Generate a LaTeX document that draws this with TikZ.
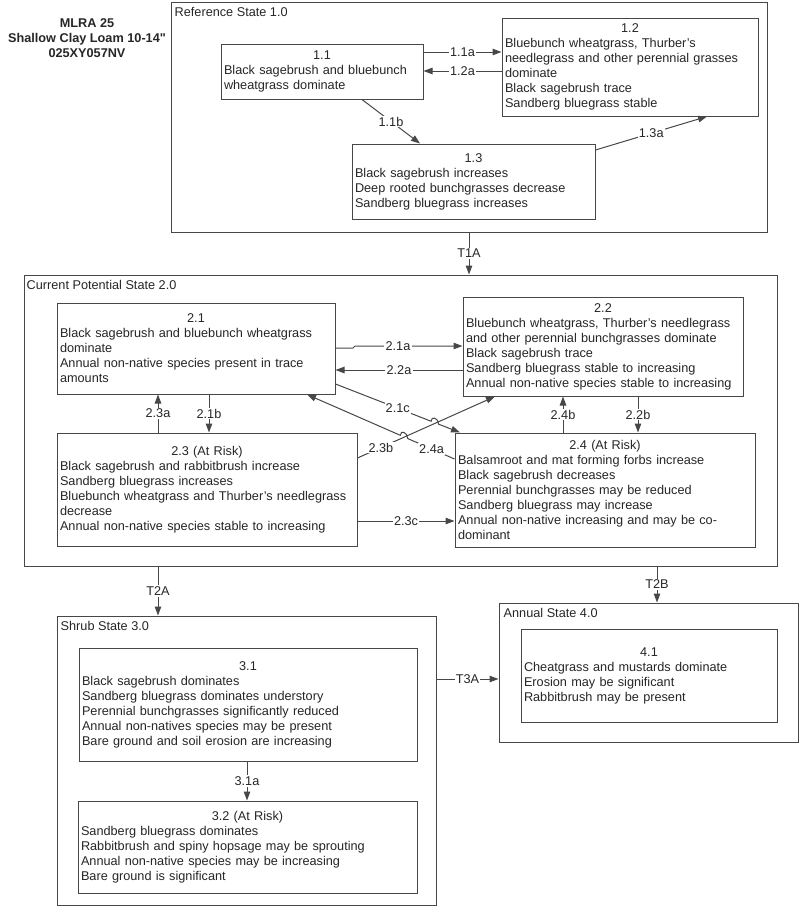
\documentclass[tikz,border=0pt]{standalone}
\usepackage{fontspec}
\setmainfont{Liberation Sans}
\usetikzlibrary{arrows.meta,calc}
\definecolor{linec}{gray}{0.28}
\definecolor{textc}{gray}{0.15}
\newcommand\fs{\fontsize{12.7}{15}\selectfont}
\newcommand\ttl[1]{\makebox[\hsize]{#1}}
\newcommand\straightquote{{\addfontfeatures{Ligatures=TeXOff}"}}
\begin{document}
\begin{tikzpicture}[x=1pt,y=-1pt,
  statebox/.style={draw=linec, line width=1pt, inner sep=0pt},
  box/.style={draw=linec, line width=1pt, fill=white, inner xsep=3pt, inner ysep=1pt,
    align=left, font=\fs, text=textc},
  bx/.code 2 args={\pgfmathsetmacro\tw{#1-6}%
    \edef\tmp{\noexpand\pgfkeysalso{minimum width=#1pt, minimum height=#2pt, text width=\tw pt}}\tmp},
  sttl/.style={anchor=base west, inner sep=0pt, font=\fs, text=textc},
  lbl/.style={fill=white, inner sep=1.2pt, font=\fs, text=textc},
  arr/.style={draw=linec, line width=1pt, -{Triangle[length=9pt,width=6.5pt]}}
]
\useasboundingbox (0,0) rectangle (800,908);

% title
\node[font={\bfseries\fs}, text=textc, align=center] (title) at (87,38)
  {MLRA 25\\Shallow Clay Loam 10-14\straightquote\\025XY057NV};

% state boxes
\node[statebox, minimum width=596pt, minimum height=230pt] (s1) at (469,117) {};
\node[statebox, minimum width=753pt, minimum height=291pt] (s2) at (400.5,420.5) {};
\node[statebox, minimum width=379pt, minimum height=289pt] (s3) at (246.5,760.5) {};
\node[statebox, minimum width=299pt, minimum height=139pt] (s4) at (648.5,672.5) {};

\node[sttl] (t1) at ([shift={(4,14.5)}]s1.north west) {Reference State 1.0};
\node[sttl] (t2) at ([shift={(3,14.5)}]s2.north west) {Current Potential State 2.0};
\node[sttl] (t3) at ([shift={(4,14.5)}]s3.north west) {Shrub State 3.0};
\node[sttl] (t4) at ([shift={(5,14.5)}]s4.north west) {Annual State 4.0};

% community boxes
\node[box, bx={202}{55}] (b11) at (322,71.5)
  {\ttl{1.1}\\Black sagebrush and bluebunch\\wheatgrass dominate};
\node[box, bx={256}{98}] (b12) at (630,67)
  {\ttl{1.2}\\Bluebunch wheatgrass, Thurber's\\needlegrass and other perennial grasses\\dominate\\Black sagebrush trace\\Sandberg bluegrass stable};
\node[box, bx={243}{75}] (b13) at (473.5,181.5)
  {\ttl{1.3}\\Black sagebrush increases\\Deep rooted bunchgrasses decrease\\Sandberg bluegrass increases};

\node[box, bx={278}{91}] (b21) at (196,348.5)
  {\ttl{2.1}\\Black sagebrush and bluebunch wheatgrass\\dominate\\Annual non-native species present in trace\\amounts};
\node[box, bx={280}{99}] (b22) at (603,346.5)
  {\ttl{2.2}\\Bluebunch wheatgrass, Thurber's needlegrass\\and other perennial bunchgrasses dominate\\Black sagebrush trace\\Sandberg bluegrass stable to increasing\\Annual non-native species stable to increasing};
\node[box, bx={300}{113}] (b23) at (207,489.5)
  {\ttl{2.3 (At Risk)}\\Black sagebrush and rabbitbrush increase\\Sandberg bluegrass increases\\Bluebunch wheatgrass and Thurber's needlegrass\\decrease\\Annual non-native species stable to increasing};
\node[box, bx={300}{114}] (b24) at (605,490)
  {\ttl{2.4 (At Risk)}\\Balsamroot and mat forming forbs increase\\Black sagebrush decreases\\Perennial bunchgrasses may be reduced\\Sandberg bluegrass may increase\\Annual non-native increasing and may be co-\\dominant};

\node[box, bx={338}{113}] (b31) at (248,704.5)
  {\ttl{3.1}\\Black sagebrush dominates\\Sandberg bluegrass dominates understory\\Perennial bunchgrasses significantly reduced\\Annual non-natives species may be present\\Bare ground and soil erosion are increasing};
\node[box, bx={339}{92}] (b32) at (247.5,847)
  {\ttl{3.2 (At Risk)}\\Sandberg bluegrass dominates\\Rabbitbrush and spiny hopsage may be sprouting\\Annual non-native species may be increasing\\Bare ground is significant};
\node[box, bx={256}{93}] (b41) at (649,675.5)
  {\ttl{4.1}\\Cheatgrass and mustards dominate\\Erosion may be significant\\Rabbitbrush may be present};

% state 1 pathways
\draw[arr] (b11.east |- 0,52) -- node[lbl] (l11a) {1.1a} (b12.west |- 0,52);
\draw[arr] (b12.west |- 0,71) -- node[lbl] (l12a) {1.2a} (b11.east |- 0,71);
\draw[arr] (b11.south -| 362,0) -- node[lbl] (l11b) {1.1b} (b13.north -| 420,0);
\draw[arr] (b13.east |- 0,150) -- node[lbl] (l13a) {1.3a} (b12.south -| 707,0);

% transitions
\draw[arr] (s1.south -| 469,0) -- node[lbl] (lT1A) {T1A} (s2.north -| 469,0);
\draw[arr] (s2.south -| 158,0) -- node[lbl] (lT2A) {T2A} (s3.north -| 158,0);
\draw[arr] (s2.south -| 657,0) -- node[lbl] (lT2B) {T2B} (s4.north -| 657,0);
\draw[arr] (s3.east |- 0,679) -- node[lbl] (lT3A) {T3A} (s4.west |- 0,679);

% state 2 pathways
\draw[arr] (b21.east |- 0,348) -- (353,348) -- (355,346) -- node[lbl, pos=0.4] (l21a) {2.1a} (b22.west |- 0,346);
\draw[arr] (b22.west |- 0,370) -- node[lbl] (l22a) {2.2a} (b21.east |- 0,370);
\draw[arr] (b23.north -| 158,0) -- node[lbl] (l23a) {2.3a} (b21.south -| 158,0);
\draw[arr] (b21.south -| 209,0) -- node[lbl] (l21b) {2.1b} (b23.north -| 209,0);
\draw[arr] (b24.north -| 563,0) -- node[lbl] (l24b) {2.4b} (b22.south -| 563,0);
\draw[arr] (b22.south -| 638,0) -- node[lbl] (l22b) {2.2b} (b24.north -| 638,0);
\draw[arr] (b23.east |- 0,521) -- node[lbl] (l23c) {2.3c} (b24.west |- 0,521);
\draw[arr] (b23.east |- 0,458) -- node[lbl, pos=0.17] (l23b) {2.3b} (b22.south -| 495,0);

\coordinate (p1) at (b21.east |- 0,384);
\coordinate (p2) at (b24.north -| 460,0);
\draw[arr] (p1) -- node[lbl, pos=0.651] (l21c) {2.1c} ($(p1)!0.768!(p2)$)
  .. controls +(0,-6) and +(0,-6) .. ($(p1)!0.828!(p2)$) -- (p2);

\coordinate (q1) at (b24.west |- 0,459);
\coordinate (q2) at (b21.south -| 307,0);
\draw[arr] (q1) -- node[lbl, pos=0.49] (l24a) {2.4a} ($(q1)!0.317!(q2)$)
  .. controls +(0,-6) and +(0,-6) .. ($(q1)!0.367!(q2)$) -- (q2);

% state 3 pathway
\draw[arr] (b31.south -| 247,0) -- node[lbl] (l31a) {3.1a} (b32.north -| 247,0);
\end{tikzpicture}
\end{document}
